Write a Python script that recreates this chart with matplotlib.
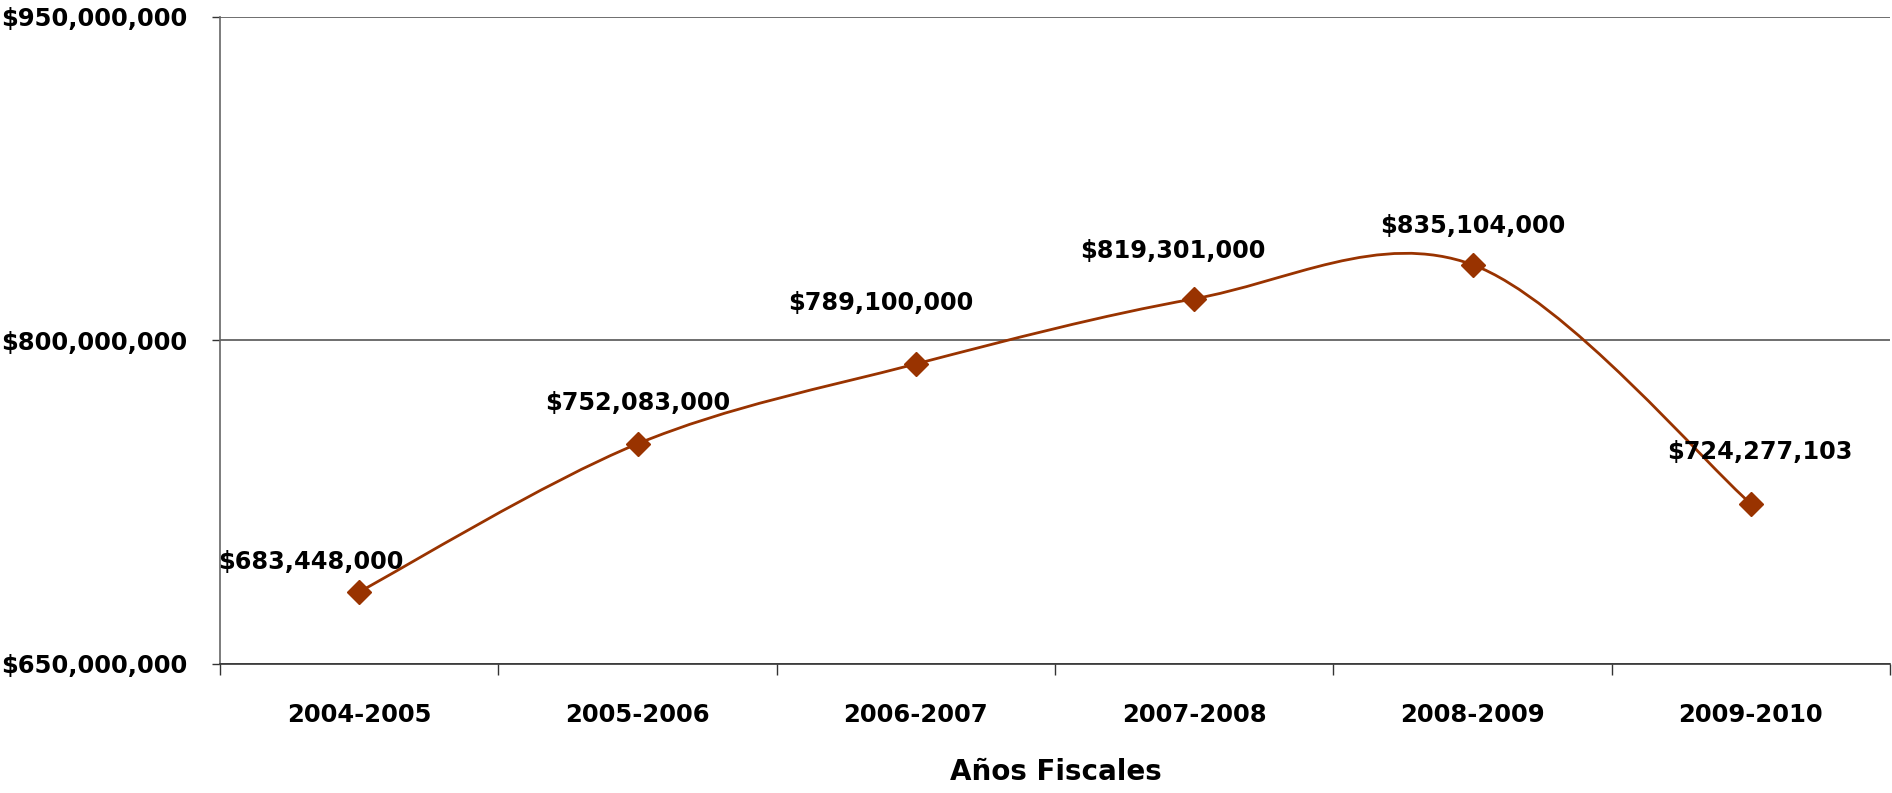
import matplotlib
matplotlib.use("Agg")
import matplotlib.pyplot as plt
import numpy as np
from matplotlib.path import Path
from matplotlib.patches import PathPatch
from matplotlib.ticker import FuncFormatter, FixedLocator

years = ["2004-2005", "2005-2006", "2006-2007", "2007-2008", "2008-2009", "2009-2010"]
amounts = [683448000, 752083000, 789100000, 819301000, 835104000, 724277103]
labels = ["$683,448,000", "$752,083,000", "$789,100,000", "$819,301,000",
          "$835,104,000", "$724,277,103"]

# label offsets in pixels (dx, dy) relative to each marker
label_offsets = [(-48, 30), (0, 41), (-35, 61), (-21, 48), (0, 39), (9, 52)]

color = "#993300"
plt.rcParams['font.family'] = ['DejaVu Sans']

fig = plt.figure(figsize=(18.92, 7.93), dpi=100)
ax = fig.add_axes([0.1163, 0.1627, 0.8827, 0.816])

x = np.arange(len(years))
y = np.array(amounts, dtype=float)

# Excel style smoothed line: cubic bezier segments (Catmull-Rom, 1/6 tension)
pts = np.column_stack([x, y])
verts = [pts[0]]
codes = [Path.MOVETO]
for i in range(len(pts) - 1):
    p0 = pts[i - 1] if i > 0 else pts[i]
    p1 = pts[i]
    p2 = pts[i + 1]
    p3 = pts[i + 2] if i + 2 < len(pts) else pts[i + 1]
    c1 = p1 + (p2 - p0) / 6.0
    c2 = p2 - (p3 - p1) / 6.0
    verts += [c1, c2, p2]
    codes += [Path.CURVE4] * 3
ax.add_patch(PathPatch(Path(verts, codes), facecolor="none", edgecolor=color,
                       lw=2.0, zorder=3))
ax.plot(x, y, linestyle="none", marker="D", markersize=12, color=color, zorder=4)

for xi, yi, lab, (dx, dy) in zip(x, y, labels, label_offsets):
    ax.annotate(lab, (xi, yi), xytext=(dx, dy), textcoords="offset pixels",
                ha="center", va="center", fontsize=17.3, fontweight="bold",
                color="black")

ax.set_xlim(-0.5, len(years) - 0.5)
ax.set_ylim(650000000, 950000000)
ax.set_yticks([650000000, 800000000, 950000000])
ax.yaxis.set_major_formatter(FuncFormatter(lambda v, p: "${:,.0f}".format(v)))
ax.yaxis.grid(True, color="#555555", lw=1.2)
ax.set_axisbelow(True)

ax.set_xticks(x)
ax.set_xticklabels(years)
ax.xaxis.set_minor_locator(FixedLocator(np.arange(-0.5, len(years), 1.0)))
ax.tick_params(axis="x", which="major", length=0, pad=28, labelsize=17.5)
ax.tick_params(axis="x", which="minor", length=8, width=1.0, color="#333333")
ax.tick_params(axis="y", length=6, width=1.0, color="#333333", pad=17.5, labelsize=17.5)
for lab in ax.get_xticklabels() + ax.get_yticklabels():
    lab.set_fontweight("bold")

for s in ["top", "right"]:
    ax.spines[s].set_visible(False)
ax.spines["left"].set_color("#666666")
ax.spines["left"].set_linewidth(1.2)
ax.spines["bottom"].set_color("#333333")
ax.spines["bottom"].set_linewidth(1.2)

fig.text(0.558, 0.027, "Años Fiscales", ha="center", va="center",
         fontsize=20, fontweight="bold")

fig.savefig("out.png", dpi=100)
